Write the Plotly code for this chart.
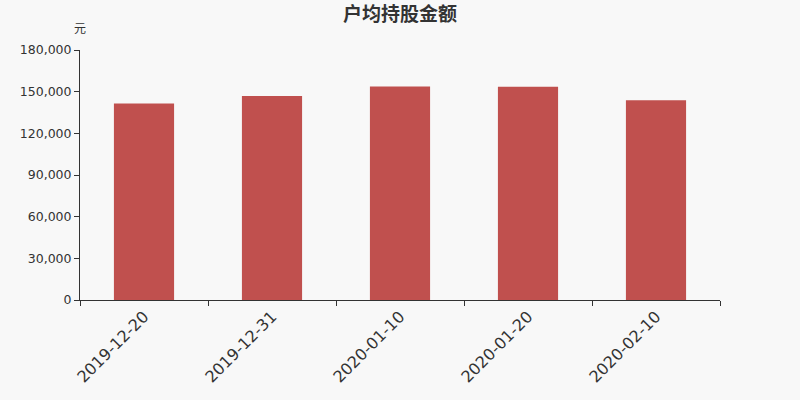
import plotly.graph_objects as go

dates = ['2019-12-20', '2019-12-31', '2020-01-10', '2020-01-20', '2020-02-10']
avg_amount = [141500, 146900, 153800, 153600, 143800]
y_ticks = [0, 30000, 60000, 90000, 120000, 150000, 180000]

fig = go.Figure()

fig.add_trace(go.Bar(x=dates, y=avg_amount,
                     marker=dict(color='#c0504e', line=dict(width=0)),
                     width=0.47))

fig.update_layout(
    width=800, height=400,
    paper_bgcolor='#f8f8f8', plot_bgcolor='#f8f8f8',
    margin=dict(l=80, r=80, t=50, b=100),
    showlegend=False,
    title={'text': '<b>户均持股金额</b>',
           'x': 0.5, 'y': 0.965,
           'xanchor': 'center', 'yanchor': 'middle',
           'font': dict(family='Noto Sans CJK SC', size=19, color='#333')},
    font=dict(family='DejaVu Sans', size=12, color='#333'),
)

fig.update_xaxes(type='category', range=[-0.5, 4.5],
                 tickson='boundaries', ticks='outside', ticklen=5,
                 tickcolor='#333', showline=True, linecolor='#333',
                 linewidth=1, showgrid=False, tickangle=-45,
                 tickfont=dict(size=16, color='#333'))

fig.update_yaxes(range=[0, 180000], tickvals=y_ticks,
                 ticktext=[f'{v:,}' for v in y_ticks],
                 ticks='outside', ticklen=5, tickcolor='#333',
                 showline=True, linecolor='#333', linewidth=1,
                 showgrid=False, zeroline=False,
                 tickfont=dict(size=12.5, color='#333'))

fig.add_annotation(text='元', xref='paper', yref='paper', x=0, y=1,
                   xanchor='center', yanchor='bottom', yshift=12,
                   showarrow=False,
                   font=dict(family='Noto Sans CJK SC', size=12, color='#333'))

fig.write_html("out.html", config={'displayModeBar': False},
               post_script="document.body.style.margin='0';"
                           "document.body.style.background='#f8f8f8';")
